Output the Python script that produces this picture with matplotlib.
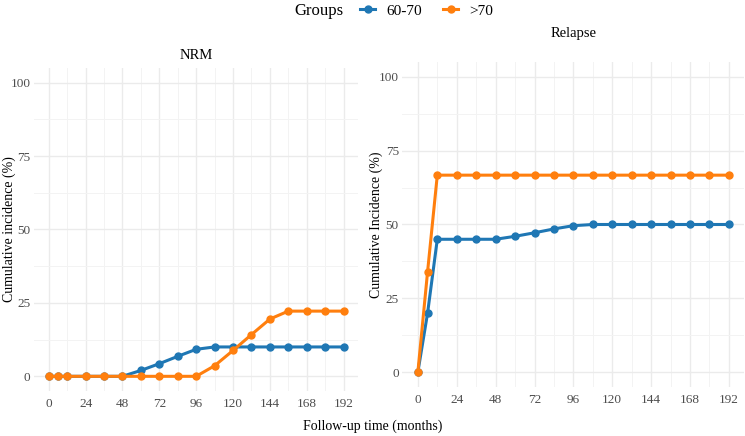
import matplotlib
matplotlib.use("Agg")
from matplotlib import pyplot as plt
from matplotlib.lines import Line2D

# follow-up time points (months)
months = [0, 6, 12, 24, 36, 48, 60, 72, 84, 96, 108, 120, 132, 144, 156, 168, 180, 192]

nrm_60_70 = [0, 0, 0, 0, 0, 0, 2.0, 4.3, 6.8, 9.2, 10, 10, 10, 10, 10, 10, 10, 10]
nrm_over_70 = [0, 0, 0, 0, 0, 0, 0, 0, 0, 0, 3.6, 8.8, 14.2, 19.5, 22.2, 22.2, 22.2, 22.2]

relapse_60_70 = [0, 20, 45, 45, 45, 45, 46, 47.2, 48.5, 49.6, 50, 50, 50, 50, 50, 50, 50, 50]
relapse_over_70 = [0, 34, 66.7, 66.7, 66.7, 66.7, 66.7, 66.7, 66.7, 66.7, 66.7, 66.7,
                   66.7, 66.7, 66.7, 66.7, 66.7, 66.7]

group_names = ["60-70", ">70"]
group_colors = ["#1f77b4", "#ff7f0e"]

x_ticks = [0, 24, 48, 72, 96, 120, 144, 168, 192]
y_ticks = [0, 25, 50, 75, 100]

plt.rcParams["font.family"] = ["Liberation Serif", "DejaVu Serif"]

fig = plt.figure(figsize=(7.45, 4.36), dpi=100)
ax_nrm = fig.add_axes([0.0456, 0.1032, 0.4354, 0.741])
ax_rel = fig.add_axes([0.540, 0.1124, 0.4593, 0.7454])


def style_panel(ax, title, title_y, ylabel, ylabel_x):
    ax.set_xlim(-9.6, 201.6)
    ax.set_ylim(-5, 105)
    ax.set_xticks(x_ticks)
    ax.set_yticks(y_ticks)
    ax.set_xticks([12, 36, 60, 84, 108, 132, 156, 180], minor=True)
    ax.set_yticks([12.5, 37.5, 62.5, 87.5], minor=True)
    ax.grid(which="major", color="#ebebeb", linewidth=1.0)
    ax.grid(which="minor", color="#f3f3f3", linewidth=0.7)
    ax.set_axisbelow(True)
    for s in ax.spines.values():
        s.set_visible(False)
    ax.tick_params(which="both", length=0)
    ax.tick_params(labelsize=9.5, labelcolor="#4d4d4d")
    ax.tick_params(axis="y", pad=2.5)
    ax.tick_params(axis="x", pad=5)
    ax.text(0.5, title_y, title, transform=ax.transAxes, ha="center", va="center",
            fontsize=10.5)
    ax.set_ylabel(ylabel, fontsize=10)
    ax.yaxis.set_label_coords(ylabel_x, 0.5)


series = [
    (ax_nrm, [nrm_60_70, nrm_over_70]),
    (ax_rel, [relapse_60_70, relapse_over_70]),
]
for ax, vals in series:
    for v, c in zip(vals, group_colors):
        ax.plot(months, v, color=c, linewidth=2.2, marker="o", markersize=5)

style_panel(ax_nrm, "NRM", 1.04, "Cumulative incidence (%)", -0.054)
style_panel(ax_rel, "Relapse", 1.089, "Cumulative Incidence (%)", -0.057)

fig.text(0.5, 0.006, "Follow-up time (months)", ha="center", va="bottom", fontsize=10)

# legend across the top: title on the left, entries in one row
fig.text(294 / 745, 1 - 11 / 436, "Groups", ha="left", va="center", fontsize=12)
handles = [Line2D([0], [0], color=c, linewidth=2.2, marker="o", markersize=5)
           for c in group_colors]
fig.legend(handles, group_names, loc="center left",
           bbox_to_anchor=(360 / 745, 1 - 11 / 436), ncol=2, frameon=False,
           fontsize=11, handlelength=1.0, handletextpad=0.7, columnspacing=1.4,
           borderpad=0, borderaxespad=0)

fig.savefig("out.png", dpi=100)
